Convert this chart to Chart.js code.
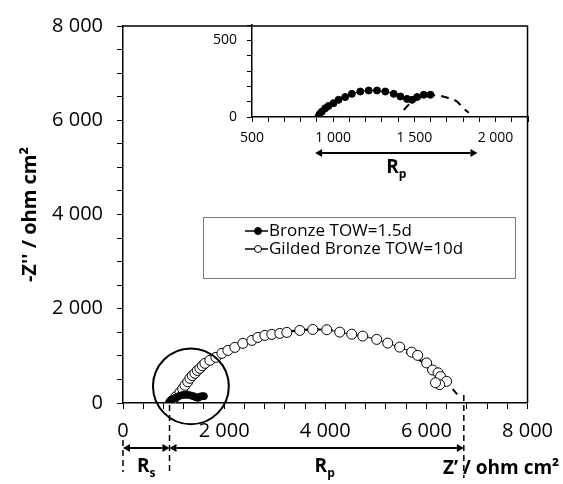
<!DOCTYPE html>
<html>
<head>
<meta charset="utf-8">
<script src="https://cdn.jsdelivr.net/npm/chart.js@4.4.1/dist/chart.umd.min.js"></script>
<style>
  html, body { margin: 0; padding: 0; background: #fff; }
  #wrap { position: relative; width: 563px; height: 484px; }
  #main { position: absolute; left: 0; top: 0; width: 563px; height: 484px; }
  #inset { position: absolute; left: 190px; top: 0; width: 373px; height: 190px; }
</style>
</head>
<body>
<div id="wrap">
  <canvas id="main" width="563" height="484"></canvas>
  <canvas id="inset" width="373" height="190"></canvas>
</div>
<script>
// Nyquist data (ohm cm2)
const bronzeZre = [909, 916, 930, 951, 971, 1002, 1033, 1074, 1115, 1167, 1219, 1270, 1321, 1373, 1414, 1455, 1486, 1517, 1558, 1599];
const bronzeZim = [2, 18, 35, 57, 72, 90, 112, 130, 151, 166, 173, 173, 166, 151, 134, 118, 112, 130, 145, 145];

const bronzeFitZre = [1435, 1475, 1530, 1600, 1660, 1712, 1763, 1794, 1835];
const bronzeFitZim = [46, 90, 125, 140, 138, 123, 101, 64, 28];

const gildedZre = [962, 1040, 1126, 1180, 1225, 1280, 1323, 1370, 1422, 1470, 1521, 1570, 1620, 1719, 1837, 1956, 2074, 2212, 2370, 2548, 2667, 2805, 2943, 3101, 3240, 3496, 3753, 4030, 4286, 4523, 4741, 5017, 5235, 5472, 5709, 5827, 6005, 6123, 6230, 6280, 6400, 6262, 6180];
const gildedZim = [42, 130, 227, 300, 375, 450, 523, 580, 629, 690, 735, 790, 841, 905, 968, 1053, 1116, 1180, 1265, 1328, 1392, 1434, 1456, 1477, 1498, 1540, 1561, 1555, 1504, 1460, 1420, 1350, 1271, 1186, 1080, 1011, 850, 700, 640, 560, 460, 390, 430];

const gildedFitZre = [920, 1000, 1150, 1350, 1600, 1900, 2250, 2650, 3100, 3500, 3830, 4200, 4600, 5000, 5400, 5800, 6100, 6350, 6550, 6660];
const gildedFitZim = [0, 130, 308, 527, 756, 979, 1182, 1355, 1483, 1544, 1560, 1540, 1474, 1358, 1187, 952, 721, 486, 259, 116];

// resistances marked under the axes
const Rs = 920;
const RpEnd = 6740;
const insetRpStart = 889;
const insetRpEnd = 1889;

// highlighted zone (data units)
const zoomCircleZre = 1343;
const zoomCircleZim = 354;
const zoomCircleR = 750;

const fmt = v => String(v).replace(/\B(?=(\d{3})+(?!\d))/g, ' ');
const toXY = (xs, ys) => xs.map((v, i) => ({ x: v, y: ys[i] }));

Chart.defaults.font.family = "'Open Sans', 'Noto Sans', sans-serif";
Chart.defaults.color = '#000';

function doubleArrow(ctx, x1, x2, y) {
  const h = 7, w = 4;
  ctx.beginPath(); ctx.moveTo(x1 + h, y); ctx.lineTo(x2 - h, y); ctx.stroke();
  ctx.beginPath(); ctx.moveTo(x1, y); ctx.lineTo(x1 + h, y - w); ctx.lineTo(x1 + h, y + w); ctx.closePath(); ctx.fill();
  ctx.beginPath(); ctx.moveTo(x2, y); ctx.lineTo(x2 - h, y - w); ctx.lineTo(x2 - h, y + w); ctx.closePath(); ctx.fill();
}

function subLabel(ctx, main, sub, cx, base, size) {
  ctx.font = 'bold ' + size + 'px "Open Sans"';
  const w1 = ctx.measureText(main).width;
  ctx.font = 'bold ' + Math.round(size * 0.65) + 'px "Open Sans"';
  const w2 = ctx.measureText(sub).width;
  const left = cx - (w1 + w2) / 2;
  ctx.textAlign = 'left';
  ctx.textBaseline = 'alphabetic';
  ctx.font = 'bold ' + size + 'px "Open Sans"';
  ctx.fillText(main, left, base);
  ctx.font = 'bold ' + Math.round(size * 0.65) + 'px "Open Sans"';
  ctx.fillText(sub, left + w1, base + size * 0.25);
}

const mainDecor = {
  id: 'mainDecor',
  afterDraw(chart) {
    const { ctx, chartArea: a, scales: { x, y } } = chart;
    ctx.save();
    ctx.strokeStyle = '#000';
    ctx.fillStyle = '#000';

    // top and right frame
    ctx.lineWidth = 1.5;
    ctx.beginPath();
    ctx.moveTo(a.left, a.top); ctx.lineTo(a.right, a.top); ctx.lineTo(a.right, a.bottom);
    ctx.stroke();

    // circle around the low-impedance zone
    const cx = x.getPixelForValue(zoomCircleZre);
    const cy = y.getPixelForValue(zoomCircleZim);
    const r = x.getPixelForValue(zoomCircleR) - x.getPixelForValue(0);
    ctx.lineWidth = 2;
    ctx.beginPath(); ctx.arc(cx, cy, r, 0, Math.PI * 2); ctx.stroke();

    // dashed markers for Rs and Rp
    const x0 = x.getPixelForValue(0), xs = x.getPixelForValue(Rs), xe = x.getPixelForValue(RpEnd);
    ctx.lineWidth = 1.5;
    ctx.setLineDash([6, 4]);
    ctx.beginPath();
    ctx.moveTo(x0, 440); ctx.lineTo(x0, 472);
    ctx.moveTo(xs, a.bottom + 2); ctx.lineTo(xs, 472);
    ctx.moveTo(xe, a.bottom - 8); ctx.lineTo(xe, 478);
    ctx.stroke();
    ctx.setLineDash([]);
    ctx.lineWidth = 2;
    doubleArrow(ctx, x0, xs, 448);
    doubleArrow(ctx, xs, xe, 448);

    subLabel(ctx, 'R', 's', (x0 + xs) / 2, 472, 19);
    subLabel(ctx, 'R', 'p', (xs + xe) / 2 + 8, 472, 19);

    // axis titles
    ctx.textBaseline = 'alphabetic';
    ctx.textAlign = 'left';
    ctx.font = 'bold 19px "Open Sans"';
    ctx.fillText('Z\u2019 / ohm cm\u00b2', 443, 474);

    ctx.save();
    ctx.translate(30, (a.top + a.bottom) / 2);
    ctx.rotate(-Math.PI / 2);
    ctx.textAlign = 'center';
    ctx.textBaseline = 'middle';
    ctx.font = 'bold 20px "Open Sans"';
    ctx.fillText("-Z'' / ohm cm\u00b2", 0, 0);
    ctx.restore();

    // legend
    ctx.lineWidth = 1;
    ctx.strokeStyle = '#777';
    ctx.strokeRect(203.5, 217.5, 312, 61);
    ctx.strokeStyle = '#000';
    ctx.font = '17px "Open Sans"';
    ctx.textAlign = 'left';
    ctx.textBaseline = 'middle';
    const ds = chart.data.datasets;
    [[ds[0], 231], [ds[1], 249]].forEach(([d, ly]) => {
      ctx.lineWidth = 1.5;
      ctx.beginPath(); ctx.moveTo(245, ly); ctx.lineTo(268, ly); ctx.stroke();
      ctx.lineWidth = 1;
      ctx.beginPath(); ctx.arc(258, ly, 3.5, 0, Math.PI * 2);
      ctx.fillStyle = d.pointBackgroundColor; ctx.fill(); ctx.stroke();
      ctx.fillStyle = '#000';
      ctx.fillText(d.label, 269, ly);
    });
    ctx.restore();
  }
};

new Chart(document.getElementById('main'), {
  type: 'scatter',
  data: {
    datasets: [
      { label: 'Bronze TOW=1.5d', data: toXY(bronzeZre, bronzeZim), showLine: true, borderColor: '#000', borderWidth: 1,
        pointRadius: 3.5, pointBackgroundColor: '#000', pointBorderColor: '#000' },
      { label: 'Gilded Bronze TOW=10d', data: toXY(gildedZre, gildedZim), showLine: true, borderColor: '#000', borderWidth: 1,
        pointRadius: 5, pointBackgroundColor: '#fff', pointBorderColor: '#000', pointBorderWidth: 1 },
      { label: 'fit', data: toXY(gildedFitZre, gildedFitZim), showLine: true, borderColor: '#000', borderWidth: 2,
        borderDash: [7, 5], pointRadius: 0, tension: 0.4 }
    ]
  },
  options: {
    responsive: false,
    animation: false,
    layout: { padding: { top: 25, right: 35, left: 0, bottom: 0 } },
    plugins: { legend: { display: false }, tooltip: { enabled: false } },
    scales: {
      x: {
        type: 'linear', min: 0, max: 8000,
        ticks: { stepSize: 400, autoSkip: false, maxRotation: 0, padding: 10, color: '#000', font: { size: 20 },
                 callback: v => v % 2000 === 0 ? fmt(v) : '' },
        grid: { drawOnChartArea: false, tickLength: 6, color: '#000' },
        border: { color: '#000', width: 1.5 },
        afterFit: s => { s.height = 81; }
      },
      y: {
        type: 'linear', min: 0, max: 8000,
        ticks: { stepSize: 500, autoSkip: false, padding: 14, color: '#000', font: { size: 20 },
                 callback: v => v % 2000 === 0 ? fmt(v) : '' },
        grid: { drawOnChartArea: false, tickLength: 6, color: '#000' },
        border: { color: '#000', width: 1.5 },
        afterFit: s => { s.width = 123; }
      }
    }
  },
  plugins: [mainDecor]
});

const insetDecor = {
  id: 'insetDecor',
  afterDraw(chart) {
    const { ctx, scales: { x } } = chart;
    const x1 = x.getPixelForValue(insetRpStart), x2 = x.getPixelForValue(insetRpEnd);
    ctx.save();
    ctx.strokeStyle = '#000';
    ctx.fillStyle = '#000';
    ctx.lineWidth = 2;
    doubleArrow(ctx, x1, x2, 153);
    subLabel(ctx, 'R', 'p', (x1 + x2) / 2, 173, 19);
    ctx.restore();
  }
};

new Chart(document.getElementById('inset'), {
  type: 'scatter',
  data: {
    datasets: [
      { label: 'Bronze TOW=1.5d', data: toXY(bronzeZre, bronzeZim), showLine: true, borderColor: '#000', borderWidth: 1,
        pointRadius: 3.5, pointBackgroundColor: '#000', pointBorderColor: '#000' },
      { label: 'fit', data: toXY(bronzeFitZre, bronzeFitZim), showLine: true, borderColor: '#000', borderWidth: 2,
        borderDash: [8, 6], pointRadius: 0, tension: 0.4 }
    ]
  },
  options: {
    responsive: false,
    animation: false,
    layout: { padding: { top: 25, right: 35, left: 0, bottom: 0 } },
    plugins: { legend: { display: false }, tooltip: { enabled: false } },
    scales: {
      x: {
        type: 'linear', min: 500, max: 2200,
        ticks: { stepSize: 100, autoSkip: false, maxRotation: 0, padding: 8, color: '#000', font: { size: 14 },
                 callback: v => v % 500 === 0 ? fmt(v) : '' },
        grid: { drawOnChartArea: false, tickLength: 5, color: '#000' },
        border: { color: '#000', width: 1.5 },
        afterFit: s => { s.height = 73; }
      },
      y: {
        type: 'linear', min: 0, max: 600,
        ticks: { stepSize: 100, autoSkip: false, padding: 10, color: '#000', font: { size: 14 },
                 callback: v => v % 500 === 0 ? fmt(v) : '' },
        grid: { drawOnChartArea: false, tickLength: 5, color: '#000' },
        border: { color: '#000', width: 1.5 },
        afterFit: s => { s.width = 62; }
      }
    }
  },
  plugins: [insetDecor]
});
</script>
</body>
</html>
